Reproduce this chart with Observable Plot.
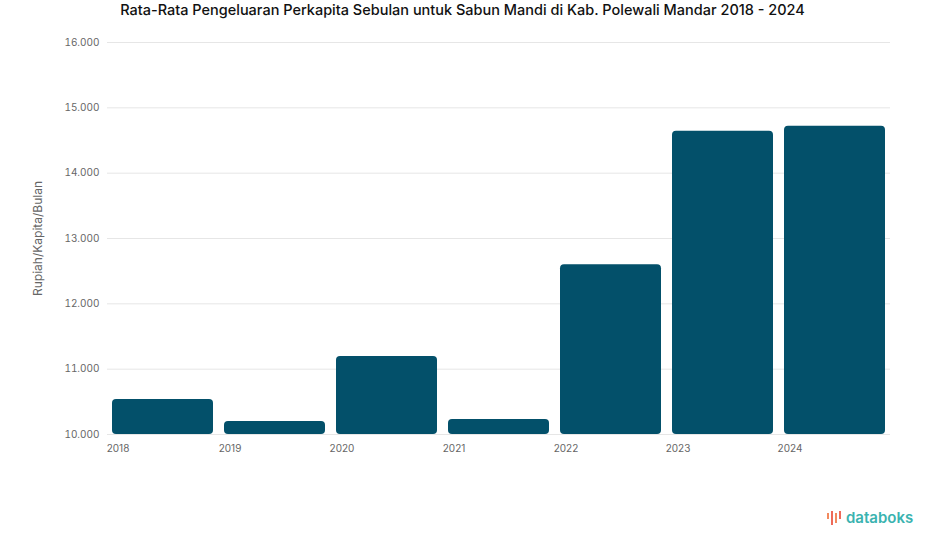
<!DOCTYPE html>
<html>
<head>
<meta charset="utf-8">
<script src="https://cdn.jsdelivr.net/npm/d3@7"></script>
<script src="https://cdn.jsdelivr.net/npm/@observablehq/plot@0.6"></script>
<style>
  body { margin: 0; background: #fff; font-family: Inter, "Noto Sans", sans-serif; }
  #wrap { position: relative; width: 925px; height: 547px; }
  #title { height: 20px; line-height: 20px; text-align: center; font-size: 14.5px; font-weight: 500; color: #111; }
  #logo { position: absolute; left: 826px; top: 508px; font-size: 15px; font-weight: 600; color: #3ab3b0; display: flex; align-items: center; }
</style>
</head>
<body>
<div id="wrap">
  <div id="title">Rata-Rata Pengeluaran Perkapita Sebulan untuk Sabun Mandi di Kab. Polewali Mandar 2018 - 2024</div>
  <div id="chart"></div>
  <div id="logo"><svg width="18" height="18" viewBox="0 0 18 18"><rect x="1" y="4" width="2" height="6" fill="#f28a5e"/><rect x="5" y="2" width="2" height="14" fill="#ee6a5a"/><rect x="9" y="4" width="2" height="10" fill="#f28a5e"/><rect x="13" y="2" width="2" height="8" fill="#ee6a5a"/></svg><span style="margin-left:2px">databoks</span></div>
</div>
<script>
const years = ["2018", "2019", "2020", "2021", "2022", "2023", "2024"];
const values = [10536, 10199, 11194, 10230, 12600, 14640, 14720];
const yTicks = [10000, 11000, 12000, 13000, 14000, 15000, 16000];
const yLabel = "Rupiah/Kapita/Bulan";

const data = years.map((y, i) => ({ year: y, value: values[i] }));
const fmt = d3.formatLocale({ decimal: ",", thousands: ".", grouping: [3], currency: ["Rp", ""] }).format(",d");

const chart = Plot.plot({
  width: 925,
  height: 451,
  marginTop: 22,
  marginBottom: 37,
  marginLeft: 107,
  marginRight: 35,
  style: { fontFamily: "Inter, 'Noto Sans', sans-serif", fontSize: "10px", color: "#666" },
  x: { domain: years, range: [110, 887], paddingInner: 0.1, paddingOuter: 0, label: null },
  y: { domain: [10000, 16000], ticks: yTicks, tickFormat: fmt, label: null },
  marks: [
    Plot.gridY(yTicks, { stroke: "#e6e6e6", strokeOpacity: 1 }),
    Plot.barY(data, { x: "year", y1: 10000, y2: "value", fill: "#03506a", rx: 4 }),
    Plot.axisY(yTicks, { tickSize: 0, tickPadding: 8, tickFormat: fmt, label: null }),
    Plot.axisX({ tickSize: 0, tickPadding: 10, dx: -45, label: null }),
    Plot.text([yLabel], { frameAnchor: "left", textAnchor: "middle", dx: -69, rotate: -90, fontSize: 12, fill: "#666" })
  ]
});
document.getElementById("chart").appendChild(chart);
</script>
</body>
</html>
